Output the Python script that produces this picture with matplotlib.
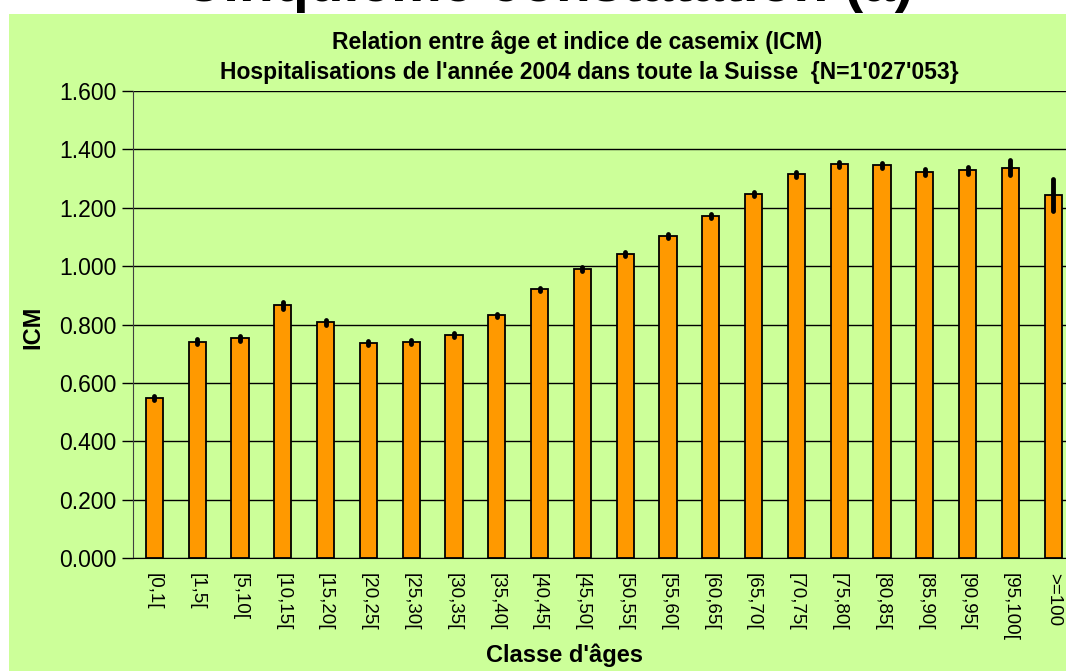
import numpy as np
import matplotlib.pyplot as plt
from matplotlib.patches import Rectangle

plt.rcParams['font.family'] = ['Liberation Sans', 'DejaVu Sans']

age_classes = ["[0,1[", "[1,5[", "[5,10[", "[10,15[", "[15,20[", "[20,25[",
               "[25,30[", "[30,35[", "[35,40[", "[40,45[", "[45,50[", "[50,55[",
               "[55,60[", "[60,65[", "[65,70[", "[70,75[", "[75,80[", "[80,85[",
               "[85,90[", "[90,95[", "[95,100[", ">=100"]
icm = [0.549, 0.741, 0.753, 0.866, 0.808, 0.736, 0.740, 0.764, 0.832, 0.920,
       0.990, 1.042, 1.103, 1.172, 1.247, 1.314, 1.349, 1.345, 1.323, 1.328,
       1.337, 1.244]
icm_err = [0.006, 0.009, 0.009, 0.012, 0.008, 0.006, 0.006, 0.006, 0.005, 0.006,
           0.006, 0.006, 0.006, 0.006, 0.007, 0.008, 0.009, 0.009, 0.010, 0.012,
           0.025, 0.056]

W, H = 1066, 671
fig = plt.figure(figsize=(W / 100, H / 100), dpi=100, facecolor='white')

# green panel behind the chart
fig.patches.append(Rectangle((9 / W, 0), 1 - 9 / W, 1 - 14 / H, transform=fig.transFigure,
                             facecolor='#CCFF99', edgecolor='none', zorder=-5))

# slide title, cut off at the top as in the original
fig.text(548 / W, 1 - 1 / H, "Cinquième constatation (a)", ha='center', va='baseline',
         fontsize=41, fontweight='bold', color='black')

fig.text(577 / W, 1 - 42 / H, "Relation entre âge et indice de casemix (ICM)",
         ha='center', va='center', fontsize=16.5, fontweight='bold')
fig.text(589 / W, 1 - 72 / H,
         "Hospitalisations de l'année 2004 dans toute la Suisse  {N=1'027'053}",
         ha='center', va='center', fontsize=16.5, fontweight='bold')

ax = fig.add_axes([133 / W, 113 / H, (W - 133) / W, 467 / H])
ax.set_facecolor('none')

x = np.arange(len(age_classes))
ax.bar(x, icm, width=0.4, color='#FF9900', edgecolor='black', linewidth=1.3, zorder=3)
eb = ax.errorbar(x, icm, yerr=icm_err, fmt='none', ecolor='black', elinewidth=3.5,
                 capsize=0, zorder=4)
for coll in eb[2]:
    coll.set_capstyle('round')

ax.set_xlim(-0.5, 21.3)
ax.set_ylim(0, 1.6)
ax.set_yticks(np.arange(0, 1.61, 0.2))
ax.set_yticklabels([f"{v:.3f}" for v in np.arange(0, 1.61, 0.2)], fontsize=16.5)
ax.set_xticks(x)
ax.set_xticklabels(age_classes, rotation=-90, fontsize=13.5, va='top', ha='center')
ax.tick_params(axis='x', length=0, pad=11)
ax.tick_params(axis='y', length=8, width=1, pad=4, direction='out')
ax.yaxis.grid(True, color='black', linewidth=1)
ax.set_axisbelow(True)

for s in ['top', 'right']:
    ax.spines[s].set_visible(False)
ax.spines['left'].set_color('#404040')
ax.spines['bottom'].set_color('black')

fig.text(33 / W, 1 - 327 / H, "ICM", rotation=90, ha='center', va='center',
         fontsize=17, fontweight='bold')
fig.text(565 / W, 1 - 655 / H, "Classe d'âges", ha='center', va='center',
         fontsize=17, fontweight='bold')

fig.savefig('out.png', dpi=100, facecolor='white')
